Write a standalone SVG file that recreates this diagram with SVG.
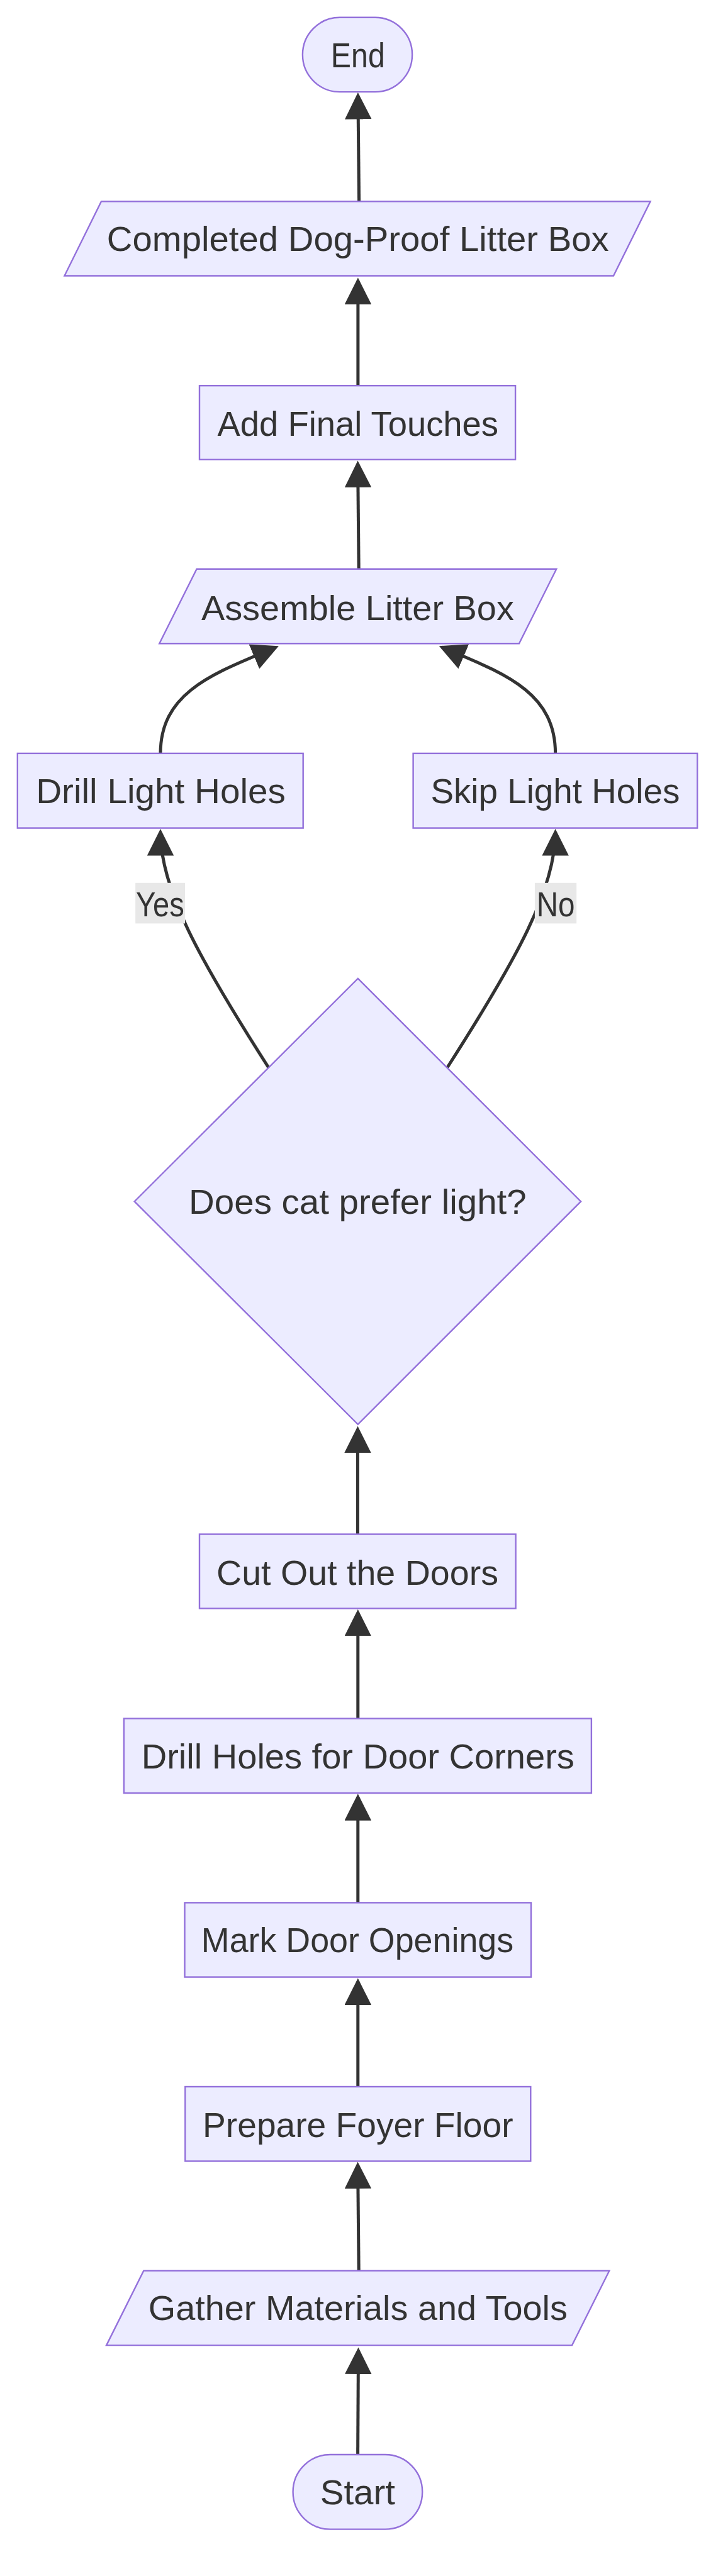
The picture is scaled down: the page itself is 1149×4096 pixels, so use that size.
<svg xmlns="http://www.w3.org/2000/svg" width="1149" height="4096" viewBox="0 0 1149 4096">
<style>
.node{fill:#ECECFF;stroke:#9370DB;stroke-width:2.4}
.edge{fill:none;stroke:#333333;stroke-width:5;stroke-linecap:butt}
.lbl{fill:#333333;font-family:"Liberation Sans",Arial,sans-serif;font-size:56px;text-anchor:middle}
.elbg{fill:#e8e8e8;stroke:none}
</style>
<defs>
<marker id="arrow" viewBox="0 0 10 10" refX="8.82" refY="5" markerUnits="userSpaceOnUse" markerWidth="42.5" markerHeight="42.5" orient="auto">
<path d="M0,0 L10,5 L0,10 z" fill="#333333"/>
</marker>
</defs>
<rect x="0" y="0" width="1149" height="4096" fill="#ffffff"/>
<g id="edges">
<path class="edge" marker-end="url(#arrow)" d="M570.6,320.3 L568.9,152.1"/>
<path class="edge" marker-end="url(#arrow)" d="M568.9,613.2 L568.9,446.4"/>
<path class="edge" marker-end="url(#arrow)" d="M570.2,904.8 L568.6,737.5"/>
<path class="edge" marker-end="url(#arrow)" d="M255.0,1198.1 C255.0,1098.0 344.0,1069.5 438.3,1029.2"/>
<path class="edge" marker-end="url(#arrow)" d="M882.6,1198.1 C882.6,1098.0 796.6,1069.4 702.4,1029.1"/>
<path class="edge" marker-end="url(#arrow)" d="M426.8,1697.5 C314.8,1522.6 255.0,1412.8 255.0,1323.1"/>
<path class="edge" marker-end="url(#arrow)" d="M710.8,1697.5 C822.8,1522.6 882.6,1412.8 882.6,1323.1"/>
<path class="edge" marker-end="url(#arrow)" d="M568.5,2439.5 L568.5,2272.7"/>
<path class="edge" marker-end="url(#arrow)" d="M568.8,2732.6 L568.8,2564"/>
<path class="edge" marker-end="url(#arrow)" d="M568.8,3025.4 L568.8,2857.2"/>
<path class="edge" marker-end="url(#arrow)" d="M568.8,3318 L568.8,3150.4"/>
<path class="edge" marker-end="url(#arrow)" d="M570.2,3610.5 L568.6,3442.5"/>
<path class="edge" marker-end="url(#arrow)" d="M568.6,3903 L569.5,3737.5"/>
</g>
<g id="edge-labels">
<g id="label-yes">
<rect class="elbg" x="215.2" y="1403.8" width="78.8" height="64.6"/>
<text class="lbl" x="254.4" y="1456.7" textLength="76.9" lengthAdjust="spacingAndGlyphs">Yes</text>
</g>
<g id="label-no">
<rect class="elbg" x="849.9" y="1403.8" width="66.3" height="64.6"/>
<text class="lbl" x="883.1" y="1456.7" textLength="60.8" lengthAdjust="spacingAndGlyphs">No</text>
</g>
</g>
<g id="node-end">
<rect class="node" x="480.9" y="27.8" width="174.2" height="118.3" rx="59" ry="59"/>
<text class="lbl" x="568.8" y="106.9" textLength="85.9" lengthAdjust="spacingAndGlyphs">End</text>
</g>
<g id="node-completed">
<polygon class="node" points="161.0,320.3 1033.6,320.3 975.0,438.5 102.5,438.5"/>
<text class="lbl" x="568.8" y="399.3" textLength="797.9" lengthAdjust="spacingAndGlyphs">Completed Dog-Proof Litter Box</text>
</g>
<g id="node-final">
<rect class="node" x="317.0" y="613.2" width="502.1" height="117.6"/>
<text class="lbl" x="568.8" y="692.5" textLength="446.5" lengthAdjust="spacingAndGlyphs">Add Final Touches</text>
</g>
<g id="node-assemble">
<polygon class="node" points="312.6,904.8 884.3,904.8 825.0,1023.2 253.3,1023.2"/>
<text class="lbl" x="568.4" y="985.6" textLength="497.0" lengthAdjust="spacingAndGlyphs">Assemble Litter Box</text>
</g>
<g id="node-drill-light">
<rect class="node" x="27.8" y="1197.9" width="453.9" height="118.7"/>
<text class="lbl" x="255.5" y="1276.6" textLength="396.7" lengthAdjust="spacingAndGlyphs">Drill Light Holes</text>
</g>
<g id="node-skip-light">
<rect class="node" x="656.6" y="1197.9" width="451.6" height="118.7"/>
<text class="lbl" x="882.4" y="1276.6" textLength="396.0" lengthAdjust="spacingAndGlyphs">Skip Light Holes</text>
</g>
<g id="node-decision">
<polygon class="node" points="568.8,1555.9 923.1,1910.4 568.8,2264.8 213.7,1910.4"/>
<text class="lbl" x="568.4" y="1929.6" textLength="536.6" lengthAdjust="spacingAndGlyphs">Does cat prefer light?</text>
</g>
<g id="node-cut">
<rect class="node" x="317.0" y="2439.5" width="502.6" height="118.1"/>
<text class="lbl" x="568.0" y="2519.5" textLength="448.0" lengthAdjust="spacingAndGlyphs">Cut Out the Doors</text>
</g>
<g id="node-drill-corners">
<rect class="node" x="196.9" y="2732.6" width="743.0" height="118.5"/>
<text class="lbl" x="568.8" y="2811.6" textLength="688.1" lengthAdjust="spacingAndGlyphs">Drill Holes for Door Corners</text>
</g>
<g id="node-mark">
<rect class="node" x="293.5" y="3025.4" width="550.5" height="118.2"/>
<text class="lbl" x="568.0" y="3104.1" textLength="496.3" lengthAdjust="spacingAndGlyphs">Mark Door Openings</text>
</g>
<g id="node-prepare">
<rect class="node" x="294.3" y="3318.0" width="549.0" height="118.4"/>
<text class="lbl" x="568.8" y="3398.3" textLength="493.4" lengthAdjust="spacingAndGlyphs">Prepare Foyer Floor</text>
</g>
<g id="node-gather">
<polygon class="node" points="228.4,3610.5 968.4,3610.5 909.1,3729.1 169.1,3729.1"/>
<text class="lbl" x="568.8" y="3689.3" textLength="666.1" lengthAdjust="spacingAndGlyphs">Gather Materials and Tools</text>
</g>
<g id="node-start">
<rect class="node" x="465.6" y="3903.0" width="205.6" height="118.6" rx="59" ry="59"/>
<text class="lbl" x="568.4" y="3982.4" textLength="119.3" lengthAdjust="spacingAndGlyphs">Start</text>
</g>
</svg>
